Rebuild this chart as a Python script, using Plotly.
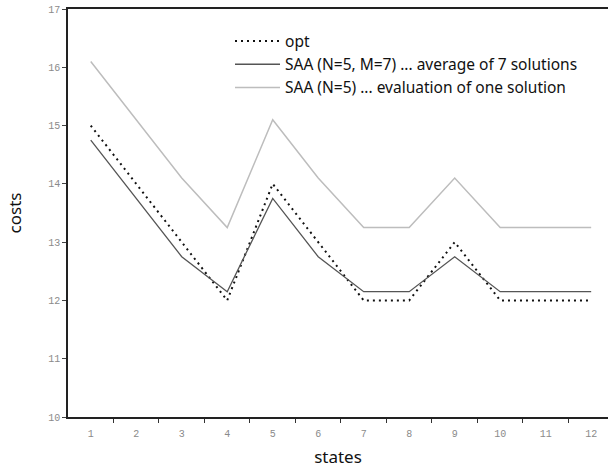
import plotly.graph_objects as go

states = list(range(1, 13))
state_labels = [str(s) for s in states]

opt = [15, 14, 13, 12, 14, 13, 12, 12, 13, 12, 12, 12]
saa_avg = [14.75, 13.75, 12.75, 12.15, 13.75, 12.75, 12.15, 12.15, 12.75, 12.15, 12.15, 12.15]
saa_one = [16.1, 15.1, 14.1, 13.25, 15.1, 14.1, 13.25, 13.25, 14.1, 13.25, 13.25, 13.25]

y_ticks = [10, 11, 12, 13, 14, 15, 16, 17]
x_range = [0.5, 12.37]

fig = go.Figure()
fig.add_trace(go.Scatter(x=states, y=opt, mode="lines", name="opt",
                         line=dict(color="#111111", width=2, dash="2px,4px")))
fig.add_trace(go.Scatter(x=states, y=saa_avg, mode="lines",
                         name="SAA (N=5, M=7) ... average of 7 solutions",
                         line=dict(color="#555555", width=1.3)))
fig.add_trace(go.Scatter(x=states, y=saa_one, mode="lines",
                         name="SAA (N=5) ... evaluation of one solution",
                         line=dict(color="#bdbdbd", width=1.5)))

tick_font = dict(family="Liberation Mono", size=10, color="#8a8a8a")
title_font = dict(family="Noto Sans", size=17, color="#111111")

# tick marks sit on the boundaries between states
boundaries = [s + 0.5 for s in states[:-1]]

fig.update_layout(
    width=608, height=473,
    margin=dict(l=68, r=0, t=9, b=56),
    paper_bgcolor="white", plot_bgcolor="white",
    showlegend=True,
    legend=dict(x=0.3, y=0.962, xanchor="left", yanchor="top",
                font=dict(family="Noto Sans", size=15.5, color="#111111"),
                bgcolor="rgba(0,0,0,0)", itemwidth=45),
    xaxis=dict(range=x_range, tickmode="array", tickvals=states,
               ticktext=state_labels, showgrid=False, zeroline=False,
               showline=True, linecolor="#222222", linewidth=1.5, mirror=True,
               ticks="", tickfont=tick_font, ticklabelstandoff=6,
               automargin=False,
               minor=dict(tickmode="array", tickvals=boundaries,
                          ticks="outside", ticklen=4, tickcolor="#333333",
                          tickwidth=1.2, showgrid=False),
               title=dict(text="states", font=title_font, standoff=12)),
    yaxis=dict(range=[10, 17], tickmode="array", tickvals=y_ticks,
               showgrid=False, zeroline=False, showline=True,
               linecolor="#222222", linewidth=1.5, ticks="outside",
               ticklen=4, tickcolor="#444444", tickfont=tick_font,
               automargin=False,
               title=dict(text="costs", font=title_font, standoff=22)),
)

fig.write_html("out.html")
